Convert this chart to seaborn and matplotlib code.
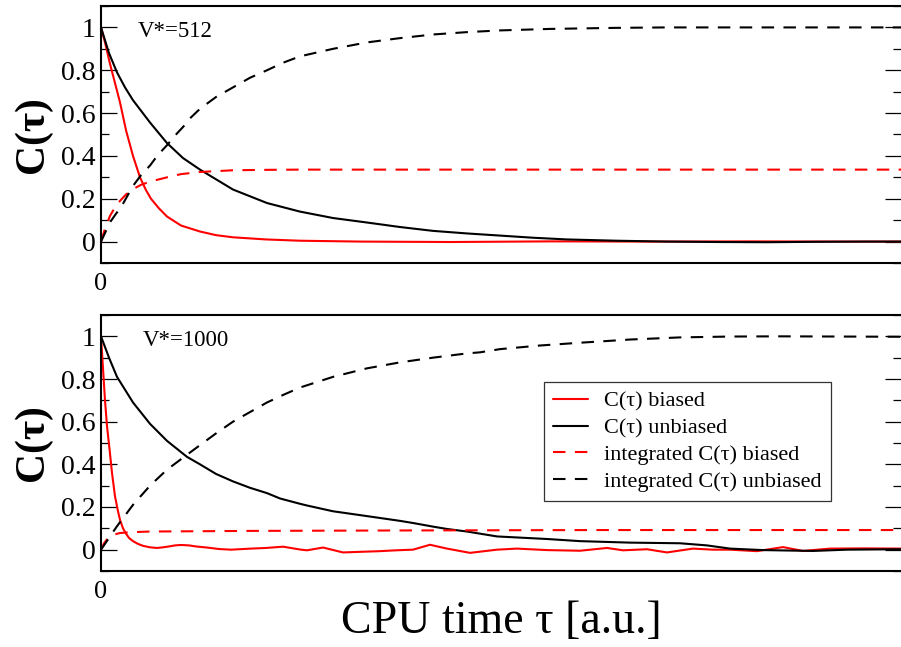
import matplotlib
matplotlib.use("Agg")
import matplotlib.pyplot as plt
import seaborn as sns
import numpy as np
from matplotlib.ticker import MultipleLocator

# ==========================================
#   DATA (CPU time in a.u.)
# ==========================================

# --- V*=512 (top panel) ---
t512_cb = [0, 4, 9, 14, 19, 25, 32, 39, 45, 50, 58, 66, 80, 99, 115, 132, 165, 199, 260, 350,
           450, 550, 650, 750, 800]
c512_cb = [1.0, 0.93, 0.83, 0.74, 0.65, 0.52, 0.40, 0.30, 0.24, 0.20, 0.155, 0.117, 0.075,
           0.047, 0.03, 0.02, 0.01, 0.004, 0.0, -0.002, 0.001, 0.0, 0.001, 0.0, 0.0]

t512_cu = [0, 4, 8, 16, 24, 32, 49, 66, 82, 99, 132, 166, 199, 232, 266, 299, 332, 366, 399,
           432, 466, 516, 566, 616, 666, 716, 766, 800]
c512_cu = [1.0, 0.94, 0.88, 0.79, 0.72, 0.66, 0.556, 0.46, 0.39, 0.336, 0.243, 0.18, 0.14,
           0.11, 0.089, 0.068, 0.05, 0.038, 0.028, 0.018, 0.01, 0.004, 0.0, -0.002, -0.003,
           -0.001, 0.0, 0.0]

t512_ib = [0, 4, 9, 14, 19, 25, 32, 40, 49, 66, 80, 99, 132, 166, 199, 300, 400, 500, 600,
           700, 800]
c512_ib = [0.0, 0.06, 0.12, 0.16, 0.19, 0.22, 0.245, 0.265, 0.28, 0.30, 0.315, 0.325, 0.333,
           0.335, 0.336, 0.336, 0.336, 0.336, 0.336, 0.336, 0.336]

t512_iu = [0, 5, 9, 15, 20, 26, 32, 40, 49, 57, 66, 74, 82, 90, 99, 115, 132, 149, 166, 182,
           199, 232, 266, 299, 332, 366, 399, 449, 516, 566, 616, 700, 800]
c512_iu = [0.0, 0.05, 0.09, 0.13, 0.16, 0.21, 0.26, 0.31, 0.355, 0.405, 0.45, 0.495, 0.535,
           0.58, 0.62, 0.675, 0.72, 0.765, 0.80, 0.835, 0.865, 0.90, 0.93, 0.95, 0.967, 0.978,
           0.986, 0.993, 0.998, 1.0, 1.0, 1.0, 1.0]

# --- V*=1000 (bottom panel) ---
t1000_cb = [0, 2, 4, 6, 9, 11, 14, 17, 19, 22, 25, 28, 32, 37, 42, 49, 56, 62, 68, 74, 80, 88,
            95, 106, 118, 130, 150, 165, 182, 200, 206, 222, 242, 260, 279, 295, 312, 329, 346,
            369, 396, 416, 446, 479, 506, 522, 546, 566, 592, 612, 629, 656, 682, 702, 729,
            762, 800]
c1000_cb = [1.0, 0.85, 0.70, 0.58, 0.45, 0.36, 0.25, 0.18, 0.14, 0.10, 0.075, 0.055, 0.04,
            0.027, 0.018, 0.011, 0.008, 0.011, 0.015, 0.02, 0.022, 0.02, 0.015, 0.01, 0.003,
            0.0, 0.005, 0.008, 0.014, 0.0, -0.003, 0.01, -0.013, -0.01, -0.007, -0.003, 0.0,
            0.023, 0.005, -0.015, 0.0, 0.005, -0.002, -0.005, 0.008, -0.003, 0.002, -0.013,
            0.005, 0.0, 0.0, -0.007, 0.012, -0.006, 0.005, 0.006, 0.005]

t1000_cu = [0, 4, 8, 16, 24, 32, 49, 66, 86, 99, 115, 132, 149, 166, 179, 199, 206, 232, 262,
            299, 312, 332, 346, 366, 396, 446, 479, 529, 579, 606, 629, 662, 712, 746, 800]
c1000_cu = [1.0, 0.95, 0.90, 0.81, 0.75, 0.69, 0.59, 0.51, 0.435, 0.40, 0.355, 0.32, 0.29,
            0.265, 0.24, 0.215, 0.207, 0.18, 0.16, 0.135, 0.125, 0.108, 0.097, 0.085, 0.062,
            0.05, 0.04, 0.033, 0.03, 0.02, 0.005, -0.002, -0.006, 0.0, 0.002]

t1000_ib = [0, 3, 6, 9, 14, 19, 30, 49, 150, 300, 500, 800]
c1000_ib = [0.0, 0.03, 0.048, 0.06, 0.072, 0.078, 0.082, 0.085, 0.088, 0.09, 0.092, 0.092]

t1000_iu = [0, 8, 16, 24, 32, 49, 66, 86, 99, 115, 132, 149, 166, 182, 199, 232, 266, 299, 332,
            366, 379, 399, 439, 479, 529, 579, 629, 679, 800]
c1000_iu = [0.0, 0.055, 0.11, 0.16, 0.21, 0.30, 0.375, 0.445, 0.49, 0.545, 0.60, 0.645, 0.69,
            0.725, 0.76, 0.81, 0.85, 0.878, 0.90, 0.92, 0.925, 0.94, 0.957, 0.97, 0.985,
            0.995, 0.999, 1.0, 0.998]

panel_labels = ["V*=512", "V*=1000"]
series_labels = ["C(\u03c4) biased", "C(\u03c4) unbiased",
                 "integrated C(\u03c4) biased", "integrated C(\u03c4) unbiased"]
ytick_vals = [0, 0.2, 0.4, 0.6, 0.8, 1.0]
ytick_labels = ["0", "0.2", "0.4", "0.6", "0.8", "1"]

# ==========================================
#             PLOTTING
# ==========================================

sns.set_style("ticks")
plt.rcParams["font.family"] = ["Liberation Serif", "DejaVu Serif"]
for key in ["text.color", "axes.labelcolor", "xtick.color", "ytick.color", "axes.edgecolor"]:
    plt.rcParams[key] = "black"

fig = plt.figure(figsize=(9.01, 6.47), dpi=100)
ax_top = fig.add_axes([101 / 901, 1 - 263 / 647, 800 / 901, 257 / 647])
ax_bot = fig.add_axes([101 / 901, 1 - 571 / 647, 800 / 901, 256 / 647])

DASH = (0, (6, 4.5))
LW = 1.5

panels = [
    (ax_top, [(t512_cb, c512_cb), (t512_cu, c512_cu), (t512_ib, c512_ib), (t512_iu, c512_iu)]),
    (ax_bot, [(t1000_cb, c1000_cb), (t1000_cu, c1000_cu), (t1000_ib, c1000_ib), (t1000_iu, c1000_iu)]),
]
styles = [("#ff0000", "-"), ("black", "-"), ("#ff0000", DASH), ("black", DASH)]

for k, (ax, series) in enumerate(panels):
    for (t, c), (col, ls), lab in zip(series, styles, series_labels):
        sns.lineplot(x=t, y=c, ax=ax, color=col, linestyle=ls, linewidth=LW,
                     label=lab, legend=False, estimator=None, sort=False)

    ax.set_xlim(0, 800)
    ax.set_ylim(-0.1, 1.1)
    ax.set_yticks(ytick_vals)
    ax.set_yticklabels(ytick_labels)
    ax.yaxis.set_minor_locator(MultipleLocator(0.1))
    ax.set_xticks([0])
    ax.set_xticklabels(["0"])
    ax.tick_params(axis="x", length=0, pad=7, labelsize=19)
    ax.tick_params(axis="y", which="major", direction="in", length=11.5, width=0.9,
                   left=True, right=True, labelsize=20, pad=4)
    ax.tick_params(axis="y", which="minor", direction="in", length=5.8, width=0.9,
                   left=True, right=True)
    for side in ["left", "top", "bottom"]:
        ax.spines[side].set_linewidth(1.5)
        ax.spines[side].set_color("black")
    ax.spines["right"].set_visible(False)

    ax.set_ylabel("C(\u03c4)", fontsize=30, fontweight="bold")
    ax.yaxis.set_label_coords(-0.061, 0.5)
    ax.set_xlabel("")

    tx = 0.046 if k == 0 else 0.052
    ax.text(tx, 0.88, panel_labels[k], transform=ax.transAxes, fontsize=16.5,
            va="baseline", ha="left")

leg = ax_bot.legend(loc="upper left", bbox_to_anchor=(0.554, 0.738), borderaxespad=0,
                    frameon=True, fancybox=False, fontsize=16, handlelength=1.55,
                    handletextpad=0.75, labelspacing=0.28, borderpad=0.4)
leg.get_frame().set_edgecolor("black")
leg.get_frame().set_linewidth(0.9)

fig.text(0.556, 1 - 622 / 647, "CPU time \u03c4 [a.u.]", fontsize=33,
         ha="center", va="center")

plt.savefig("out.png", dpi=100)
plt.close()
